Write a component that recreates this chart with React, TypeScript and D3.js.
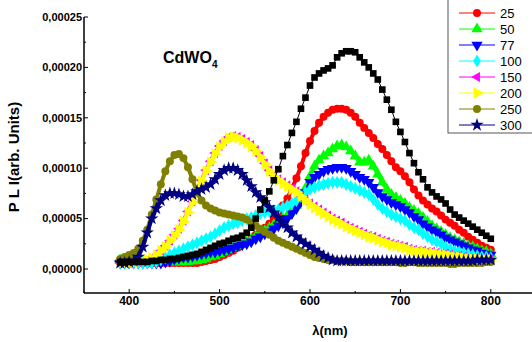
import React from 'react';
import * as d3 from 'd3';

// wavelength grid (nm), one point every 5 nm
const WAVELENGTH = d3.range(390, 801, 5);

// PL intensity, in units of 1e-5
const BLACK = [
  0.7, 0.7, 0.7, 0.7, 0.7, 0.7, 0.7, 0.8, 0.8, 0.9,
  0.9, 1.0, 1.0, 1.1, 1.2, 1.3, 1.4, 1.5, 1.7, 1.9,
  2.1, 2.3, 2.5, 2.6, 2.8, 3.0, 3.1, 3.3, 3.6, 4.1,
  5.0, 5.9, 6.8, 7.7, 8.8, 9.9, 11.2, 12.3, 13.5, 14.6,
  15.9, 17.0, 18.2, 19.0, 19.4, 19.7, 19.9, 20.2, 21.0, 21.4,
  21.6, 21.6, 21.5, 21.0, 20.5, 20.0, 19.4, 18.8, 17.8, 16.8,
  15.8, 14.6, 13.6, 12.6, 11.5, 10.5, 9.6, 8.9, 8.1, 7.6,
  7.2, 6.9, 6.5, 5.9, 5.4, 5.1, 4.8, 4.5, 4.2, 3.9,
  3.6, 3.3, 3.0,
];
const S25 = [
  0.6, 0.6, 0.6, 0.6, 0.6, 0.6, 0.6, 0.6, 0.6, 0.6,
  0.6, 0.6, 0.6, 0.6, 0.6, 0.6, 0.6, 0.6, 0.7, 0.8,
  0.9, 1.0, 1.2, 1.4, 1.6, 1.8, 2.1, 2.4, 2.7, 3.0,
  3.4, 3.7, 4.1, 4.5, 5.0, 5.6, 6.3, 7.0, 8.0, 9.0,
  10.2, 11.5, 12.7, 13.7, 14.5, 15.1, 15.5, 15.8, 15.9, 15.9,
  15.8, 15.5, 15.1, 14.5, 14.0, 13.5, 13.0, 12.4, 11.9, 11.3,
  10.7, 10.1, 9.7, 9.2, 8.6, 7.9, 7.3, 6.8, 6.4, 6.0,
  5.7, 5.3, 4.9, 4.6, 4.3, 3.9, 3.6, 3.2, 2.9, 2.6,
  2.3, 2.1, 1.9,
];
const S50 = [
  0.9, 0.9, 0.8, 0.8, 0.7, 0.7, 0.7, 0.7, 0.7, 0.7,
  0.7, 0.7, 0.7, 0.7, 0.7, 0.7, 0.8, 0.8, 0.9, 1.0,
  1.2, 1.3, 1.5, 1.7, 1.9, 2.1, 2.3, 2.5, 2.7, 3.0,
  3.2, 3.5, 3.8, 4.1, 4.4, 4.7, 5.0, 5.3, 5.8, 6.3,
  7.0, 8.0, 9.2, 10.2, 10.8, 11.2, 11.5, 11.9, 12.2, 12.3,
  12.1, 11.7, 11.2, 10.6, 10.6, 10.8, 10.2, 9.4, 8.6, 7.9,
  7.4, 7.1, 6.8, 6.5, 6.1, 5.8, 5.5, 5.1, 4.7, 4.3,
  4.0, 3.7, 3.4, 3.1, 2.9, 2.7, 2.5, 2.3, 2.2, 2.0,
  1.8, 1.7, 1.5,
];
const S77 = [
  0.6, 0.6, 0.6, 0.6, 0.6, 0.6, 0.6, 0.6, 0.6, 0.6,
  0.7, 0.8, 1.0, 1.1, 1.2, 1.2, 1.3, 1.4, 1.5, 1.6,
  1.7, 1.7, 1.8, 1.9, 2.0, 2.1, 2.3, 2.4, 2.5, 2.7,
  3.0, 3.2, 3.5, 3.7, 4.0, 4.3, 4.6, 5.0, 5.5, 6.0,
  6.7, 7.6, 8.6, 9.1, 9.4, 9.7, 9.9, 10.0, 10.1, 10.1,
  10.0, 9.7, 9.4, 9.1, 8.9, 8.6, 8.1, 7.6, 7.2, 6.9,
  6.6, 6.4, 6.2, 5.9, 5.6, 5.2, 4.9, 4.5, 4.2, 3.9,
  3.7, 3.4, 3.1, 2.9, 2.7, 2.5, 2.3, 2.1, 1.9, 1.8,
  1.6, 1.5, 1.4,
];
const S100 = [
  0.6, 0.6, 0.6, 0.6, 0.6, 0.6, 0.6, 0.6, 0.7, 0.9,
  1.1, 1.4, 1.6, 1.8, 2.0, 2.2, 2.4, 2.6, 2.8, 3.0,
  3.2, 3.5, 3.8, 4.1, 4.3, 4.5, 4.6, 4.8, 5.0, 5.1,
  5.3, 5.5, 5.6, 5.7, 5.8, 5.9, 6.1, 6.3, 6.5, 6.8,
  7.2, 7.6, 7.9, 8.1, 8.3, 8.4, 8.5, 8.6, 8.6, 8.6,
  8.4, 8.2, 8.0, 7.8, 7.6, 7.4, 6.9, 6.4, 6.0, 5.7,
  5.4, 5.2, 5.0, 4.8, 4.4, 4.1, 3.9, 3.5, 3.2, 2.9,
  2.7, 2.5, 2.2, 2.0, 1.8, 1.7, 1.6, 1.5, 1.4, 1.3,
  1.2, 1.2, 1.1,
];
const S150 = [
  0.6, 0.6, 0.6, 0.7, 0.7, 0.8, 0.9, 1.1, 1.4, 1.8,
  2.3, 2.8, 3.4, 4.0, 4.8, 5.7, 6.7, 7.8, 8.8, 9.8,
  10.7, 11.5, 12.2, 12.7, 13.1, 13.2, 13.1, 12.9, 12.6, 12.3,
  11.8, 11.2, 10.5, 9.8, 9.3, 8.9, 8.6, 8.3, 8.0, 7.7,
  7.3, 6.9, 6.5, 6.2, 5.9, 5.6, 5.3, 5.0, 4.8, 4.6,
  4.3, 4.1, 3.9, 3.7, 3.5, 3.3, 3.2, 3.0, 2.8, 2.7,
  2.5, 2.4, 2.3, 2.2, 2.0, 1.9, 1.8, 1.8, 1.7, 1.7,
  1.6, 1.5, 1.5, 1.4, 1.3, 1.3, 1.2, 1.1, 1.1, 1.1,
  1.0, 1.0, 1.0,
];
const S200 = [
  0.6, 0.6, 0.6, 0.7, 0.7, 0.8, 0.9, 1.1, 1.4, 1.8,
  2.2, 2.8, 3.3, 3.9, 4.7, 5.6, 6.6, 7.7, 8.7, 9.7,
  10.6, 11.4, 12.1, 12.6, 13.0, 13.1, 13.0, 12.8, 12.5, 12.2,
  11.7, 11.1, 10.4, 9.7, 9.2, 8.8, 8.5, 8.2, 7.9, 7.6,
  7.2, 6.8, 6.4, 6.1, 5.8, 5.5, 5.2, 4.9, 4.7, 4.5,
  4.2, 4.0, 3.8, 3.6, 3.4, 3.2, 3.1, 2.9, 2.7, 2.6,
  2.4, 2.3, 2.2, 2.1, 1.9, 1.8, 1.7, 1.7, 1.6, 1.6,
  1.5, 1.4, 1.4, 1.3, 1.2, 1.2, 1.1, 1.0, 1.0, 1.0,
  0.9, 0.9, 0.9,
];
const S250 = [
  1.0, 1.2, 1.4, 1.6, 2.0, 2.8, 3.9, 5.4, 6.9, 8.4,
  9.7, 10.7, 11.3, 11.4, 11.0, 10.1, 8.9, 7.6, 6.8, 6.3,
  6.0, 5.8, 5.6, 5.5, 5.4, 5.3, 5.2, 5.1, 4.9, 4.6,
  4.3, 4.0, 3.7, 3.4, 3.1, 2.8, 2.6, 2.4, 2.2, 2.0,
  1.8, 1.6, 1.4, 1.2, 1.1, 1.0, 0.9, 0.9, 0.8, 0.8,
  0.8, 0.7, 0.7, 0.7, 0.7, 0.7, 0.7, 0.7, 0.7, 0.7,
  0.7, 0.7, 0.6, 0.6, 0.7, 0.7, 0.6, 0.6, 0.6, 0.6,
  0.6, 0.6, 0.6, 0.5, 0.5, 0.6, 0.6, 0.6, 0.6, 0.6,
  0.6, 0.7, 0.7,
];
const S300 = [
  0.6, 0.6, 0.7, 0.8, 1.2, 2.2, 3.6, 5.0, 6.0, 6.8,
  7.3, 7.5, 7.5, 7.4, 7.2, 7.2, 7.4, 7.7, 7.9, 8.1,
  8.4, 8.9, 9.4, 9.8, 10.0, 10.0, 9.8, 9.4, 8.8, 8.2,
  7.6, 7.1, 6.6, 6.1, 5.6, 5.1, 4.6, 4.1, 3.6, 3.2,
  2.8, 2.5, 2.2, 1.9, 1.6, 1.3, 1.1, 0.9, 0.8, 0.8,
  0.8, 0.8, 0.8, 0.8, 0.8, 0.8, 0.8, 0.8, 0.8, 0.8,
  0.8, 0.8, 0.8, 0.8, 0.8, 0.8, 0.8, 0.8, 0.8, 0.8,
  0.8, 0.8, 0.8, 0.8, 0.8, 0.8, 0.8, 0.8, 0.8, 0.9,
  0.9, 0.9, 0.9,
];

const LEGEND_LABELS = ['25', '50', '77', '100', '150', '200', '250', '300'];
const Y_TICKS = [0, 5, 10, 15, 20, 25];
const X_TICKS = [400, 500, 600, 700, 800];

type Shape = 'square' | 'circle' | 'up' | 'down' | 'diamond' | 'left' | 'right' | 'star';

const SERIES: { label: string | null; values: number[]; color: string; shape: Shape }[] = [
  { label: LEGEND_LABELS[0], values: S25, color: '#ff0000', shape: 'circle' },
  { label: LEGEND_LABELS[1], values: S50, color: '#00ff00', shape: 'up' },
  { label: LEGEND_LABELS[2], values: S77, color: '#0000ff', shape: 'down' },
  { label: LEGEND_LABELS[3], values: S100, color: '#00ffff', shape: 'diamond' },
  { label: LEGEND_LABELS[4], values: S150, color: '#ff00ff', shape: 'left' },
  { label: LEGEND_LABELS[5], values: S200, color: '#ffff00', shape: 'right' },
  { label: LEGEND_LABELS[6], values: S250, color: '#808000', shape: 'circle' },
  { label: LEGEND_LABELS[7], values: S300, color: '#000080', shape: 'star' },
  { label: null, values: BLACK, color: '#000000', shape: 'square' },
];

const FONT = "Arial, 'Liberation Sans', sans-serif";

function symbolPath(shape: Shape): { d: string; rot: number } {
  const s = d3.symbol();
  switch (shape) {
    case 'square': return { d: s.type(d3.symbolSquare).size(44)() as string, rot: 0 };
    case 'circle': return { d: s.type(d3.symbolCircle).size(50)() as string, rot: 0 };
    case 'up': return { d: s.type(d3.symbolTriangle).size(55)() as string, rot: 0 };
    case 'down': return { d: s.type(d3.symbolTriangle).size(55)() as string, rot: 180 };
    case 'left': return { d: s.type(d3.symbolTriangle).size(44)() as string, rot: -90 };
    case 'right': return { d: s.type(d3.symbolTriangle).size(60)() as string, rot: 90 };
    case 'diamond': return { d: s.type(d3.symbolDiamond).size(50)() as string, rot: 0 };
    case 'star': return { d: s.type(d3.symbolStar).size(55)() as string, rot: 0 };
  }
}

export default function App() {
  const x = d3.scaleLinear().domain([350, 850]).range([84, 536]);
  const y = d3.scaleLinear().domain([-2.38, 25]).range([293, 17]);
  const line = d3.line<number>().x((_, i) => x(WAVELENGTH[i])).y(v => y(v));

  const fmt = (v: number) => (v * 1e-5).toFixed(5).replace('.', ',');

  return (
    <svg width={532} height={342} style={{ position: 'absolute', left: 0, top: 0, background: '#fff' }}>
      {/* series */}
      {SERIES.map((s, si) => {
        const sym = symbolPath(s.shape);
        return (
          <g key={si}>
            <path d={line(s.values) ?? ''} fill="none" stroke={s.color}
              strokeWidth={s.shape === 'square' ? 1 : 4} strokeLinejoin="round" />
            {s.values.map((v, i) => (
              <path key={i} d={sym.d} fill={s.color}
                transform={`translate(${x(WAVELENGTH[i])},${y(v)}) rotate(${sym.rot})`} />
            ))}
          </g>
        );
      })}

      {/* axes */}
      <line x1={84} x2={84} y1={y(25)} y2={293} stroke="#000" strokeWidth={1.5} />
      <line x1={84} x2={532} y1={293} y2={293} stroke="#000" strokeWidth={1.5} />
      {d3.range(0, 25.1, 2.5).map(t => (
        <line key={t} x1={84} x2={84 + (t % 5 === 0 ? 4 : 2)} y1={y(t)} y2={y(t)} stroke="#000" strokeWidth={1} />
      ))}
      {d3.range(350, 851, 50).map(t => (
        <line key={t} x1={x(t)} x2={x(t)} y1={293} y2={293 - (t % 100 === 0 ? 4 : 2)} stroke="#000" strokeWidth={1} />
      ))}
      {Y_TICKS.map(t => (
        <text key={t} x={82} y={y(t)} dy="0.35em" textAnchor="end" fontSize={11} fontWeight={700} fontFamily={FONT}>
          {fmt(t)}
        </text>
      ))}
      {X_TICKS.map(t => (
        <text key={t} x={x(t)} y={305} textAnchor="middle" fontSize={12} fontWeight={700} fontFamily={FONT}>
          {t}
        </text>
      ))}
      <text x={330} y={335} textAnchor="middle" fontSize={13} fontWeight={700} fontFamily={FONT}>λ(nm)</text>
      <text transform="translate(19,157) rotate(-90)" textAnchor="middle" fontSize={15} fontWeight={700} fontFamily={FONT}>
        {'P L  I(arb. Units)'}
      </text>

      {/* title */}
      <text x={163} y={63} fontSize={16} fontWeight={700} fontFamily={FONT}>
        CdWO<tspan fontSize={10} dy={5}>4</tspan>
      </text>

      {/* legend */}
      <rect x={448} y={-2} width={90} height={135} fill="#fff" stroke="#555" strokeWidth={1} />
      {SERIES.filter(s => s.label).map((s, i) => {
        const sym = symbolPath(s.shape);
        const ly = 13 + i * 16;
        return (
          <g key={i}>
            <line x1={459} x2={495} y1={ly} y2={ly} stroke={s.color} strokeWidth={1} />
            <path d={sym.d} fill={s.color} transform={`translate(477,${ly}) rotate(${sym.rot})`} />
            <text x={500} y={ly} dy="0.36em" fontSize={13} fontFamily={FONT}>{s.label}</text>
          </g>
        );
      })}
    </svg>
  );
}
